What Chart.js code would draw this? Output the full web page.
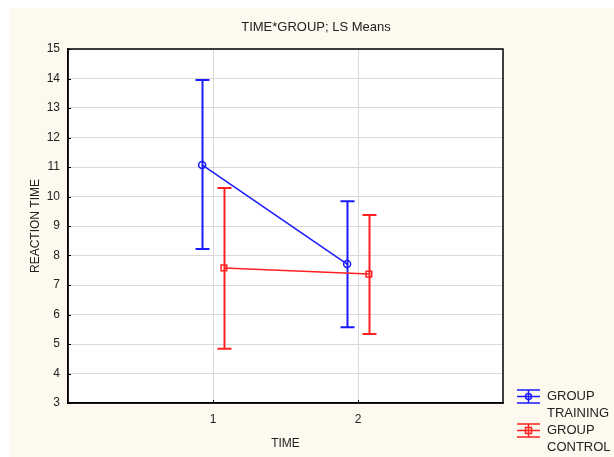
<!DOCTYPE html>
<html>
<head>
<meta charset="utf-8">
<title>TIME*GROUP; LS Means</title>
<script src="https://cdn.jsdelivr.net/npm/chart.js@4.4.1/dist/chart.umd.min.js"></script>
<style>
  html, body { margin: 0; padding: 0; background: #ffffff; }
  #wrap { width: 614px; height: 457px; }
</style>
</head>
<body>
<div id="wrap"><canvas id="grafico" width="614" height="457"></canvas></div>
<script>
// datos
const titulo = "TIME*GROUP; LS Means";
const tiempos = [1, 2];
const etiquetasX = ["1", "2"];
const entrenoMedia = [11.07, 7.71];
const entrenoBajo = [8.22, 5.57];
const entrenoAlto = [13.95, 9.84];
const controlMedia = [7.58, 7.37];
const controlBajo = [4.84, 5.34];
const controlAlto = [10.29, 9.37];
const leyendaEntreno = ["GROUP", "TRAINING"];
const leyendaControl = ["GROUP", "CONTROL"];

const AZUL = "#1a1aff";
const ROJO = "#ff2020";
const CREMA = "#fef9ef";
const FUENTE = "'Liberation Sans', Arial, sans-serif";
const desplaza = 0.075; // separación de los grupos en el eje x

function puntos(medias, dx) {
    return tiempos.map((t, i) => ({ x: t + dx, y: medias[i] }));
}

// fondo, caja del gráfico, barras de error y leyenda
const extras = {
    id: "extras",
    beforeDraw(chart) {
        const ctx = chart.ctx;
        ctx.save();
        ctx.fillStyle = CREMA;
        ctx.fillRect(10, 8, chart.width - 10, chart.height - 8);
        const a = chart.chartArea;
        ctx.fillStyle = "#ffffff";
        ctx.fillRect(a.left, a.top, a.right - a.left, a.bottom - a.top);
        ctx.fillStyle = "#222";
        ctx.font = "13px " + FUENTE;
        ctx.textAlign = "center";
        ctx.textBaseline = "middle";
        ctx.fillText(titulo, 316, 27);
        ctx.restore();
    },
    beforeDatasetsDraw(chart) {
        const ctx = chart.ctx;
        const xs = chart.scales.x, ys = chart.scales.y;
        const grupos = [
            { dx: -desplaza, bajo: entrenoBajo, alto: entrenoAlto, color: AZUL },
            { dx: desplaza, bajo: controlBajo, alto: controlAlto, color: ROJO }
        ];
        ctx.save();
        // marcas cortas hacia dentro en el eje y
        ctx.strokeStyle = "#000";
        ctx.lineWidth = 1;
        ys.ticks.forEach(t => {
            const py = Math.round(ys.getPixelForValue(t.value)) + 0.5;
            ctx.beginPath();
            ctx.moveTo(chart.chartArea.left, py); ctx.lineTo(chart.chartArea.left + 3, py);
            ctx.stroke();
        });
        xs.ticks.forEach(t => {
            const px = Math.round(xs.getPixelForValue(t.value)) + 0.5;
            ctx.beginPath();
            ctx.moveTo(px, chart.chartArea.bottom); ctx.lineTo(px, chart.chartArea.bottom - 3);
            ctx.stroke();
        });
        ctx.lineWidth = 2;
        grupos.forEach(g => {
            ctx.strokeStyle = g.color;
            tiempos.forEach((t, i) => {
                const px = Math.round(xs.getPixelForValue(t + g.dx)) + 0.5;
                const y1 = ys.getPixelForValue(g.alto[i]);
                const y2 = ys.getPixelForValue(g.bajo[i]);
                ctx.beginPath();
                ctx.moveTo(px, y1); ctx.lineTo(px, y2);
                ctx.moveTo(px - 7, y1); ctx.lineTo(px + 7, y1);
                ctx.moveTo(px - 7, y2); ctx.lineTo(px + 7, y2);
                ctx.stroke();
            });
        });
        ctx.restore();
    },
    afterDraw(chart) {
        const ctx = chart.ctx;
        const a = chart.chartArea;
        ctx.save();
        ctx.strokeStyle = "#000";
        ctx.lineWidth = 1.5;
        ctx.strokeRect(a.left, a.top, a.right - a.left, a.bottom - a.top);

        // leyenda
        const items = [
            { y: 396.5, color: AZUL, texto: leyendaEntreno, forma: "circulo" },
            { y: 430.5, color: ROJO, texto: leyendaControl, forma: "cuadro" }
        ];
        items.forEach(it => {
            ctx.strokeStyle = it.color;
            ctx.lineWidth = 1.5;
            ctx.beginPath();
            ctx.moveTo(517, it.y - 6.5); ctx.lineTo(540, it.y - 6.5);
            ctx.moveTo(517, it.y); ctx.lineTo(540, it.y);
            ctx.moveTo(517, it.y + 6.5); ctx.lineTo(540, it.y + 6.5);
            ctx.moveTo(528.5, it.y - 6.5); ctx.lineTo(528.5, it.y + 6.5);
            ctx.stroke();
            ctx.beginPath();
            if (it.forma === "circulo") ctx.arc(528.5, it.y, 3, 0, Math.PI * 2);
            else ctx.rect(525.5, it.y - 3, 6, 6);
            ctx.stroke();
            ctx.fillStyle = "#222";
            ctx.font = "13px " + FUENTE;
            ctx.textAlign = "left";
            ctx.textBaseline = "middle";
            ctx.fillText(it.texto[0], 547, it.y);
            ctx.fillText(it.texto[1], 547, it.y + 17);
        });
        ctx.restore();
    }
};

const ctx = document.getElementById("grafico");
const chart = new Chart(ctx, {
    type: "line",
    data: {
        datasets: [{
            label: "GROUP TRAINING",
            data: puntos(entrenoMedia, -desplaza),
            borderColor: AZUL,
            backgroundColor: "#ffffff",
            borderWidth: 1.5,
            pointStyle: "circle",
            pointRadius: 3.5,
            pointBorderWidth: 1.5,
            pointBackgroundColor: "rgba(255,255,255,0)"
        }, {
            label: "GROUP CONTROL",
            data: puntos(controlMedia, desplaza),
            borderColor: ROJO,
            backgroundColor: "#ffffff",
            borderWidth: 1.5,
            pointStyle: "rect",
            pointRadius: 4,
            pointBorderWidth: 1.5,
            pointBackgroundColor: "rgba(255,255,255,0)"
        }]
    },
    options: {
        responsive: false,
        animation: false,
        layout: { padding: { top: 49, right: 111, bottom: 0, left: 0 } },
        plugins: {
            legend: { display: false },
            tooltip: { enabled: false }
        },
        scales: {
            x: {
                type: "linear",
                min: 0,
                max: 3,
                afterBuildTicks: s => { s.ticks = tiempos.map(v => ({ value: v })); },
                afterFit: s => { s.height = 54; },
                ticks: {
                    padding: 9,
                    color: "#222",
                    font: { family: FUENTE, size: 12 },
                    callback: (v) => etiquetasX[tiempos.indexOf(v)]
                },
                grid: { color: "#d9d9d9", drawTicks: false },
                border: { color: "#000", width: 1.5 },
                title: {
                    display: true,
                    text: "TIME",
                    color: "#222",
                    font: { family: FUENTE, size: 12 },
                    padding: { top: 0, bottom: 6 }
                }
            },
            y: {
                min: 3,
                max: 15,
                afterFit: s => { s.width = 68; },
                ticks: {
                    stepSize: 1,
                    padding: 8,
                    color: "#222",
                    font: { family: FUENTE, size: 12 }
                },
                grid: { color: "#d9d9d9", drawTicks: false },
                border: { color: "#000", width: 1.5 },
                title: {
                    display: true,
                    text: "REACTION TIME",
                    color: "#222",
                    font: { family: FUENTE, size: 12 },
                    padding: { top: 28, bottom: 0 }
                }
            }
        }
    },
    plugins: [extras]
});
</script>
</body>
</html>
